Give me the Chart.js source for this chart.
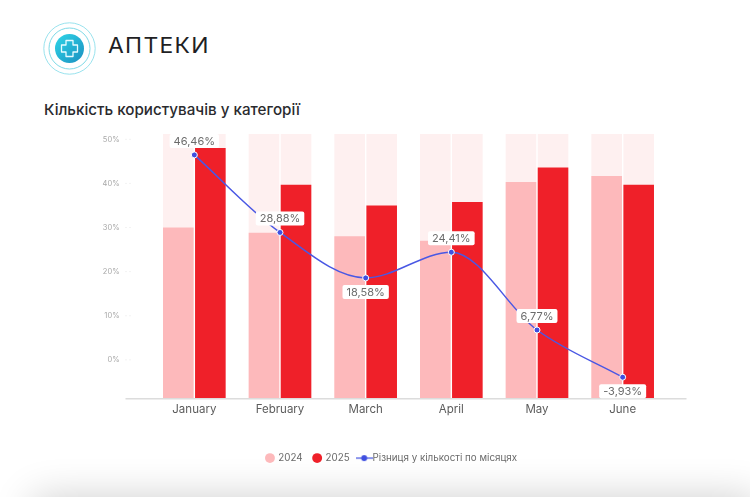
<!DOCTYPE html>
<html lang="uk">
<head>
<meta charset="utf-8">
<title>Кількість користувачів у категорії</title>
<script src="https://cdn.jsdelivr.net/npm/chart.js@4"></script>
<style>
  html, body { margin: 0; padding: 0; background: #fff; }
  #page { position: relative; width: 750px; height: 497px; overflow: hidden; background: #fff; }
  #shade { position: absolute; left: 45px; right: 5px; top: 510px; height: 40px;
    background: #ccc; box-shadow: 0 0 40px 12px rgba(0, 0, 0, 0.2); }
  #logo { position: absolute; left: 43px; top: 22px; }
  #brand { position: absolute; left: 108px; top: 33px; font: 400 21px Inter, sans-serif;
    letter-spacing: 1.2px; color: #1f1f24; transform: scaleX(1.09); transform-origin: left; }
  #title { position: absolute; left: 44px; top: 100px; margin: 0; font: 500 15.2px Inter, sans-serif;
    color: #2a2a2e; white-space: nowrap; }
  #wrap { position: absolute; left: 0; top: 0; width: 750px; height: 497px; }
</style>
</head>
<body>
<div id="page">
  <div id="shade"></div>
  <svg id="logo" width="53" height="53" viewBox="0 0 53 53">
    <defs>
      <linearGradient id="lg" x1="0" y1="0" x2="1" y2="1">
        <stop offset="0" stop-color="#2fd6e8"/>
        <stop offset="1" stop-color="#1a8fc0"/>
      </linearGradient>
    </defs>
    <circle cx="26.5" cy="26.5" r="25.7" fill="none" stroke="#7fdbe8" stroke-width="0.8"/>
    <circle cx="26.5" cy="26.5" r="20.5" fill="none" stroke="#5fcfe0" stroke-width="0.8"/>
    <circle cx="26.5" cy="26.5" r="14.5" fill="url(#lg)"/>
    <path d="M23 18.5h7v4.5h4.5v7H30v4.5h-7V30h-4.5v-7H23z" fill="none" stroke="#e6fbff" stroke-width="1.3" stroke-linejoin="round"/>
  </svg>
  <div id="brand">АПТЕКИ</div>
  <h1 id="title">Кількість користувачів у категорії</h1>
  <div id="wrap"><canvas id="chart" width="750" height="497"></canvas></div>
</div>
<script>
const months = ["January", "February", "March", "April", "May", "June"];
const values2024 = [30, 28.8, 28, 27, 40.3, 41.7];
const values2025 = [48, 39.7, 35, 35.8, 43.6, 39.7];
const diffValues = [46.46, 28.88, 18.58, 24.41, 6.77, -3.93];
const diffLabels = ["46,46%", "28,88%", "18,58%", "24,41%", "6,77%", "-3,93%"];
const labelsBelow = ["March", "June"];
const yTicks = [0, 10, 20, 30, 40, 50];
const yTop = 51.2;
const yBottom = -8.8;
const trackValues = months.map(() => yTop);

const FONT = "Inter, sans-serif";

// little canvas for the legend entry of the line (line with a dot on it)
function lineLegendIcon() {
  const c = document.createElement("canvas");
  c.width = 17; c.height = 8;
  const g = c.getContext("2d");
  g.strokeStyle = "#3f4fe0";
  g.lineWidth = 1.2;
  g.beginPath(); g.moveTo(0, 4); g.lineTo(17, 4); g.stroke();
  g.fillStyle = "#3f4fe0";
  g.beginPath(); g.arc(8.5, 4, 3, 0, Math.PI * 2); g.fill();
  return c;
}

const baselinePlugin = {
  id: "baseline",
  // legend is centred on the page's plot width, not on the padded box
  afterLayout(chart) {
    chart.legend.left += 9;
    chart.legend.right += 9;
  },
  afterDatasetsDraw(chart) {
    const { ctx, chartArea, scales } = chart;
    ctx.save();
    ctx.strokeStyle = "#dcdcdc";
    ctx.lineWidth = 1.5;
    ctx.beginPath();
    ctx.moveTo(chartArea.left - 26, chartArea.bottom);
    ctx.lineTo(chartArea.right + 21, chartArea.bottom);
    ctx.stroke();
    // faint tick marks next to the y labels
    ctx.strokeStyle = "#e6e6e6";
    ctx.lineWidth = 1;
    scales.y.ticks.forEach(t => {
      const y = scales.y.getPixelForValue(t.value);
      ctx.beginPath();
      ctx.moveTo(chartArea.left - 26, y);
      ctx.lineTo(chartArea.left - 25, y);
      ctx.moveTo(chartArea.left - 22, y);
      ctx.lineTo(chartArea.left - 21, y);
      ctx.stroke();
    });
    ctx.restore();
  }
};

const pointLabelPlugin = {
  id: "pointLabels",
  afterDatasetsDraw(chart) {
    const { ctx } = chart;
    const meta = chart.getDatasetMeta(chart.data.datasets.length - 1);
    ctx.save();
    ctx.font = "400 11px " + FONT;
    ctx.textAlign = "center";
    ctx.textBaseline = "middle";
    meta.data.forEach((pt, i) => {
      const below = labelsBelow.includes(months[i]);
      const cy = pt.y + (below ? 14 : -14);
      const w = ctx.measureText(diffLabels[i]).width + 8;
      ctx.fillStyle = "#ffffff";
      ctx.beginPath();
      ctx.roundRect(pt.x - w / 2, cy - 7, w, 14, 2);
      ctx.fill();
      ctx.fillStyle = "#6b6b6b";
      ctx.fillText(diffLabels[i], pt.x, cy + 0.5);
    });
    ctx.restore();
  }
};

new Chart(document.getElementById("chart").getContext("2d"), {
  data: {
    labels: months,
    datasets: [
      { type: "bar", label: "track24", data: trackValues, stack: "a", backgroundColor: "#fef0f0", order: 5 },
      { type: "bar", label: "track25", data: trackValues, stack: "b", backgroundColor: "#fef0f0", order: 5 },
      { type: "bar", label: "2024", data: values2024, stack: "a", backgroundColor: "#fdb9bb", order: 3 },
      { type: "bar", label: "2025", data: values2025, stack: "b", backgroundColor: "#ef2029", order: 3 },
      {
        type: "line",
        label: "Різниця у кількості по місяцях",
        data: diffValues,
        borderColor: "#4a58e4",
        borderWidth: 1.5,
        backgroundColor: "#3f4fe0",
        pointBackgroundColor: "#3f4fe0",
        pointBorderColor: "#ffffff",
        pointBorderWidth: 1,
        pointRadius: 3,
        cubicInterpolationMode: "monotone",
        order: 1
      }
    ]
  },
  options: {
    responsive: false,
    animation: false,
    devicePixelRatio: 1,
    layout: { padding: { top: 134, right: 84.5, left: 100, bottom: 24 } },
    datasets: {
      bar: { base: yBottom, categoryPercentage: 0.748, barPercentage: 0.955 }
    },
    plugins: {
      tooltip: { enabled: false },
      legend: {
        position: "bottom",
        labels: {
          usePointStyle: true,
          boxWidth: 7,
          boxHeight: 7,
          padding: 11,
          color: "#6a6a6a",
          font: { family: FONT, size: 9.8 },
          generateLabels(chart) {
            return chart.data.datasets
              .map((d, i) => ({
                text: d.label,
                datasetIndex: i,
                fillStyle: d.backgroundColor,
                strokeStyle: d.backgroundColor,
                lineWidth: 0,
                fontColor: "#6a6a6a",
                pointStyle: d.type === "line" ? lineLegendIcon() : "circle"
              }))
              .filter(item => !item.text.startsWith("track"));
          }
        }
      }
    },
    scales: {
      x: {
        grid: { display: false, drawTicks: false },
        border: { display: false },
        ticks: { color: "#5c5c5c", font: { family: FONT, size: 11.5 }, padding: 4, maxRotation: 0 },
        afterFit(scale) { scale.height = 43.5; }
      },
      y: {
        stacked: false,
        min: yBottom,
        max: yTop,
        grid: { display: false, drawTicks: false },
        border: { display: false },
        afterBuildTicks(scale) { scale.ticks = yTicks.map(value => ({ value })); },
        ticks: {
          padding: 32,
          color: "#a8a8a8",
          font: { family: FONT, size: 7.5 },
          callback: v => v + "%"
        },
        afterFit(scale) { scale.width = 51.5; }
      }
    }
  },
  plugins: [baselinePlugin, pointLabelPlugin]
});
</script>
</body>
</html>
